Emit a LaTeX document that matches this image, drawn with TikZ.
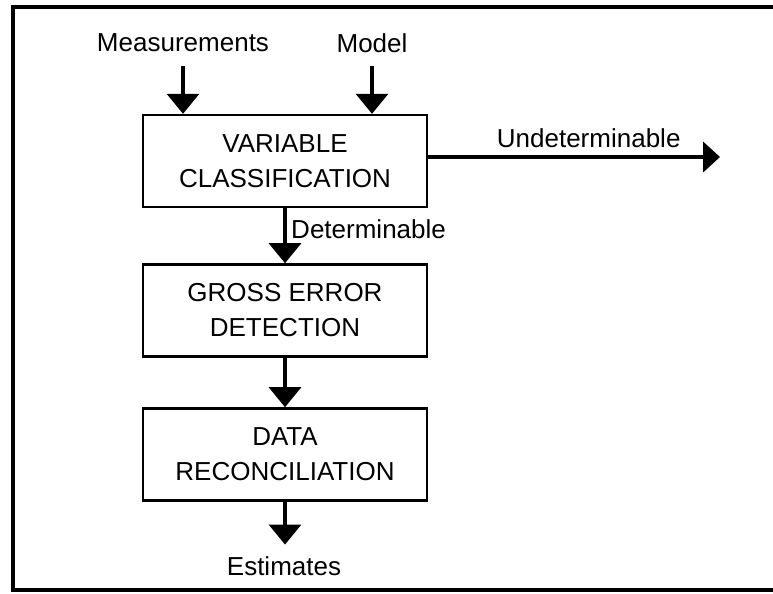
\documentclass[tikz,border=0pt]{standalone}
\usepackage{fontspec}
\setmainfont{Liberation Sans}
\usepackage{tikz}
\usetikzlibrary{arrows.meta,positioning,calc}

\begin{document}
\begin{tikzpicture}[font=\fontsize{18.5}{25}\selectfont, line width=1.7pt]
   \useasboundingbox (0,0) rectangle (19.325,-14.825);
   \draw [line width=2.2pt] (19.4,-0.175) -- (0.325,-0.175) -- (0.325,-14.75) -- (19.4,-14.75);
   \begin{scope}[every node/.style={draw,rectangle,align=center,minimum width=7.1cm,minimum height=2.3cm}]
    \node (vc) at (7.125,-4.025) {VARIABLE\\CLASSIFICATION};
    \node (ged) at (7.125,-7.76) {GROSS ERROR\\DETECTION};
    \node (rec) at (7.125,-11.36) {DATA\\RECONCILIATION};
   \end{scope}
   \node (meas) at (4.575,-1.075) {Measurements};
   \node (model) at (9.3,-1.075) {Model};
   \node (est) at (7.1,-14.15) {Estimates};
   \coordinate (undet) at (18.0,-3.925);
   \begin{scope}[-{Triangle[width=0.8cm,length=0.5cm]}, line width=2.2pt]
    \draw [shorten <=0.2cm] (meas.south) -- (meas.south |- vc.north);
    \draw [shorten <=0.2cm] (model.south) -- (model.south |- vc.north);
    \draw [-{Triangle[width=0.75cm,length=0.42cm]}] (vc.east |- undet) -- node[above=2pt,pos=0.55]{Undeterminable} (undet);
    \draw  (vc.south) -- node[right,pos=0.38]{Determinable} (ged.north);
    \draw  (ged.south) -- (rec.north);
    \draw [shorten >=0.15cm] (rec.south) -- (rec.south |- est.north);
   \end{scope}
\end{tikzpicture}
\end{document}
